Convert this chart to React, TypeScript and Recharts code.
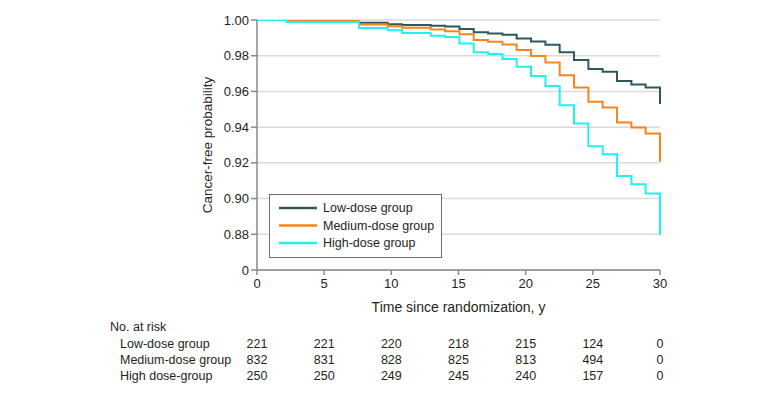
import { LineChart, Line, XAxis, YAxis, CartesianGrid, Legend } from "recharts";

// step times (years) and survival values
const times = [0, 2.2, 7.6, 8.67, 9.73, 10.8, 11.87, 12.93, 14.0, 15.07, 16.13, 17.2, 18.27, 19.33, 20.4, 21.47, 22.53, 23.6, 24.67, 25.73, 26.8, 27.87, 28.93, 30];
const lowDose = [1, 1, 0.9984, 0.9984, 0.9976, 0.9972, 0.9972, 0.9968, 0.9964, 0.995, 0.9931, 0.9925, 0.9918, 0.9897, 0.988, 0.9862, 0.9819, 0.9776, 0.9725, 0.971, 0.9658, 0.9639, 0.9622, 0.9529];
const mediumDose = [1, 1, 0.9975, 0.9975, 0.9965, 0.9957, 0.9957, 0.9947, 0.9937, 0.992, 0.9888, 0.9878, 0.9863, 0.9832, 0.9798, 0.9762, 0.9691, 0.9622, 0.9542, 0.951, 0.9426, 0.9398, 0.9364, 0.9206];
const highDose = [1, 0.9989, 0.9955, 0.9955, 0.9942, 0.9927, 0.9927, 0.9912, 0.9905, 0.9869, 0.9819, 0.9809, 0.9781, 0.9738, 0.9686, 0.963, 0.9523, 0.942, 0.9293, 0.9248, 0.9126, 0.908, 0.9029, 0.8796];

// number at risk table
const riskTimes = [0, 5, 10, 15, 20, 25, 30];
const lowAtRisk = [221, 221, 220, 218, 215, 124, 0];
const mediumAtRisk = [832, 831, 828, 825, 813, 494, 0];
const highAtRisk = [250, 250, 249, 245, 240, 157, 0];

// 0.86 is drawn as "0" (broken axis)
const yTicks = [0.86, 0.88, 0.9, 0.92, 0.94, 0.96, 0.98, 1.0];

const series = [
  { key: "low", name: "Low-dose group", color: "#2f5858" },
  { key: "medium", name: "Medium-dose group", color: "#fb8418" },
  { key: "high", name: "High-dose group", color: "#1ff2f2" },
];

const riskRows = [
  { id: "r1", name: "Low-dose group", values: lowAtRisk },
  { id: "r2", name: "Medium-dose group", values: mediumAtRisk },
  { id: "r3", name: "High dose-group", values: highAtRisk },
];

const font = "'Liberation Sans', Arial, sans-serif";
const textColor = "#231f20";
const axisColor = "#8a8a8a";

const data = times.map((t, i) => ({
  t,
  low: lowDose[i],
  medium: mediumDose[i],
  high: highDose[i],
}));

const formatY = (v: number) => (v < 0.87 ? "0" : v.toFixed(2));

function YTitle(props: any) {
  const { viewBox } = props;
  const cx = viewBox.x + 10;
  const cy = viewBox.y + viewBox.height / 2;
  return (
    <text
      x={cx}
      y={cy}
      transform={`rotate(-90 ${cx} ${cy})`}
      textAnchor="middle"
      dy="0.35em"
      fill={textColor}
      fontSize={13.5}
      fontFamily={font}
    >
      Cancer-free probability
    </text>
  );
}

function XTitle(props: any) {
  const { viewBox } = props;
  return (
    <g fontFamily={font} fill={textColor}>
      <text x={viewBox.x + viewBox.width / 2} y={viewBox.y + 32} dy="0.71em" textAnchor="middle" fontSize={14}>
        Time since randomization, y
      </text>
      <text x={110} y={viewBox.y + 52} dy="0.71em" fontSize={12.5}>
        No. at risk
      </text>
    </g>
  );
}

const rowLabel = (name: string) => (props: any) => (
  <text x={120} y={props.viewBox.y + 9} dy="0.71em" fill={textColor} fontSize={12.5} fontFamily={font}>
    {name}
  </text>
);

function LegendBox() {
  return (
    <svg width={173} height={64} style={{ display: "block" }}>
      <rect x={0.5} y={0.5} width={172} height={63} fill="#fff" stroke="#6e6e6e" />
      {series.map((s, i) => (
        <g key={s.key}>
          <line x1={10} x2={48} y1={14 + i * 17.5} y2={14 + i * 17.5} stroke={s.color} strokeWidth={2.5} />
          <text x={54} y={14 + i * 17.5} dy="0.35em" fill={textColor} fontSize={12.5} fontFamily={font}>
            {s.name}
          </text>
        </g>
      ))}
    </svg>
  );
}

const tickStyle = { fill: textColor, fontSize: 13, fontFamily: font };
const rowTickStyle = { fill: textColor, fontSize: 12.5, fontFamily: font };

export default function App() {
  return (
    <div style={{ width: 780, height: 400, background: "#fff" }}>
      <style>{"body{margin:0}"}</style>
      <LineChart width={780} height={400} data={data} margin={{ top: 20, right: 120, bottom: 22, left: 197 }}>
        <CartesianGrid vertical={false} stroke="#dadada" strokeWidth={1.5} />
        <XAxis
          dataKey="t"
          type="number"
          domain={[0, 30]}
          ticks={riskTimes}
          interval={0}
          height={60}
          tickSize={5}
          tickMargin={4}
          axisLine={{ stroke: axisColor, strokeWidth: 1.5 }}
          tickLine={{ stroke: axisColor, strokeWidth: 1.5 }}
          tick={tickStyle}
          label={{ content: XTitle }}
        />
        {riskRows.map((row) => (
          <XAxis
            key={row.id}
            xAxisId={row.id}
            dataKey="t"
            type="number"
            domain={[0, 30]}
            ticks={riskTimes}
            interval={0}
            height={16}
            axisLine={false}
            tickLine={false}
            tickSize={0}
            tickMargin={9}
            tick={rowTickStyle}
            tickFormatter={(v: number) => String(row.values[riskTimes.indexOf(v)])}
            label={{ content: rowLabel(row.name) }}
          />
        ))}
        <YAxis
          type="number"
          domain={[0.86, 1]}
          ticks={yTicks}
          interval={0}
          allowDataOverflow
          width={60}
          tickSize={6}
          tickMargin={2}
          tickFormatter={formatY}
          axisLine={{ stroke: axisColor, strokeWidth: 1.5 }}
          tickLine={{ stroke: axisColor, strokeWidth: 1.5 }}
          tick={tickStyle}
          label={{ content: YTitle }}
        />
        <Legend
          layout="vertical"
          align="center"
          verticalAlign="middle"
          content={LegendBox}
          wrapperStyle={{ left: 269, top: 194, width: 173, height: 64 }}
        />
        {series.map((s) => (
          <Line
            key={s.key}
            type="stepAfter"
            dataKey={s.key}
            name={s.name}
            stroke={s.color}
            strokeWidth={2}
            dot={false}
            isAnimationActive={false}
          />
        ))}
      </LineChart>
    </div>
  );
}
